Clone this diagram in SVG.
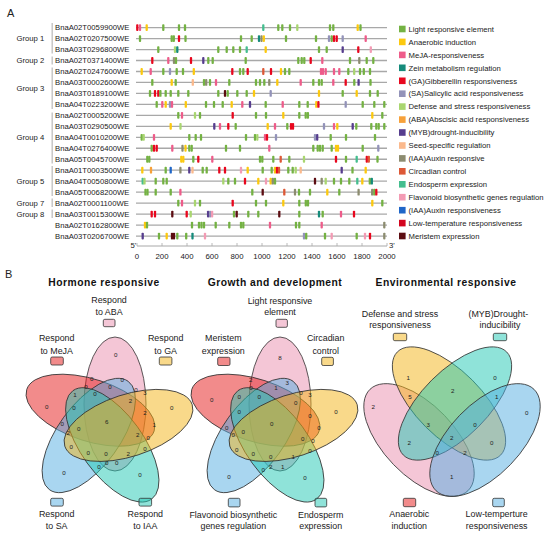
<svg xmlns="http://www.w3.org/2000/svg" xmlns:xlink="http://www.w3.org/1999/xlink" width="550" height="538" viewBox="0 0 550 538">
<style>
text{font-family:"Liberation Sans",Arial,sans-serif;fill:#222}
.pl{font-size:11px}
.gn{font-size:7.7px}
.lt{font-size:7.7px}
.ax{font-size:7.8px;text-anchor:middle}
.vt{font-size:10.3px;font-weight:bold;letter-spacing:.5px;text-anchor:middle;fill:#111}
.vl{font-size:8.9px;text-anchor:middle}
.vn{font-size:6.2px;text-anchor:middle;fill:#333}
.tl{stroke:#a8a8a8;stroke-width:1.3}
.bar{fill:#c4c4c4}
.e{stroke:#333;stroke-width:.8;fill-opacity:.5}
.sq{stroke:#333;stroke-width:.8;fill-opacity:.5}
.vp{fill:#e98dad}.vr{fill:#e61818}.vy{fill:#f3b315}.vb{fill:#53ade1}.vc{fill:#1fc7b3}
.g{fill:#74b243}.y{fill:#fcc90f}.p{fill:#ee5c8a}.t{fill:#158b7b}.r{fill:#e8071e}.l{fill:#9393b9}
.lg{fill:#a9d670}.o{fill:#f7a13a}.pu{fill:#563d8e}.pe{fill:#fbb98c}.ol{fill:#8c8c70}.ro{fill:#dd5836}
.m{fill:#44be8f}.fp{fill:#f39bb4}.b{fill:#1f66c8}.dr{fill:#d3051e}.mr{fill:#5c0d12}
</style>
<defs>
<rect id="k" x="-1.15" y="-3.4" width="2.3" height="6.8" rx="0.9"/>
</defs>
<text class="pl" x="7" y="17">A</text>
<text class="pl" x="5" y="278">B</text>

<g id="groups">
<rect class="bar" x="51.5" y="23" width="1.4" height="30.5"/>
<rect class="bar" x="51.5" y="56.5" width="1.4" height="8"/>
<rect class="bar" x="51.5" y="67.5" width="1.4" height="41.5"/>
<rect class="bar" x="51.5" y="112.5" width="1.4" height="51"/>
<rect class="bar" x="51.5" y="166" width="1.4" height="30"/>
<rect class="bar" x="51.5" y="198.5" width="1.4" height="8.5"/>
<rect class="bar" x="51.5" y="209.5" width="1.4" height="8.5"/>
<text class="gn" x="16.5" y="41.4">Group 1</text>
<text class="gn" x="16.5" y="63.3">Group 2</text>
<text class="gn" x="16.5" y="90.7">Group 3</text>
<text class="gn" x="16.5" y="140.1">Group 4</text>
<text class="gn" x="16.5" y="184">Group 5</text>
<text class="gn" x="16.5" y="205.6">Group 7</text>
<text class="gn" x="16.5" y="216.6">Group 8</text>
</g>

<g id="genes" class="gn">
<text x="55" y="30.4">BnaA02T0059900WE</text>
<text x="55" y="41.4">BnaA02T0207500WE</text>
<text x="55" y="52.3">BnaA03T0296800WE</text>
<text x="55" y="63.3">BnaA02T0371400WE</text>
<text x="55" y="74.3">BnaA02T0247600WE</text>
<text x="55" y="85.3">BnaA03T0002600WE</text>
<text x="55" y="96.2">BnaA03T0189100WE</text>
<text x="55" y="107.2">BnaA04T0223200WE</text>
<text x="55" y="118.2">BnaA02T0005200WE</text>
<text x="55" y="129.1">BnaA03T0290500WE</text>
<text x="55" y="140.1">BnaA04T0010200WE</text>
<text x="55" y="151.1">BnaA04T0276400WE</text>
<text x="55" y="162">BnaA05T0045700WE</text>
<text x="55" y="173">BnaA01T0003500WE</text>
<text x="55" y="184">BnaA04T0050800WE</text>
<text x="55" y="195">BnaA05T0068200WE</text>
<text x="55" y="205.9">BnaA02T0001100WE</text>
<text x="55" y="216.9">BnaA03T0015300WE</text>
<text x="55" y="227.9">BnaA02T0162800WE</text>
<text x="55" y="238.8">BnaA03T0206700WE</text>
</g>

<g id="tracks">
<g transform="translate(0,27.6)"><line class="tl" x1="136" x2="387"/><use href="#k" x="137.3" class="r"/><use href="#k" x="140" class="p"/><use href="#k" x="146.7" class="y"/><use href="#k" x="163.3" class="g"/><use href="#k" x="179" class="g"/><use href="#k" x="185" class="g"/><use href="#k" x="263.3" class="m"/><use href="#k" x="278.3" class="g"/><use href="#k" x="282.3" class="g"/><use href="#k" x="290" class="g"/><use href="#k" x="297.3" class="lg"/><use href="#k" x="330" class="g"/><use href="#k" x="333.3" class="g"/><use href="#k" x="357.7" class="y"/><use href="#k" x="360.5" class="g"/></g>
<g transform="translate(0,38.57)"><line class="tl" x1="136" x2="387"/><use href="#k" x="140" class="g"/><use href="#k" x="171.7" class="g"/><use href="#k" x="173.8" class="g"/><use href="#k" x="179" class="r"/><use href="#k" x="185.5" class="g"/><use href="#k" x="241" class="g"/><use href="#k" x="251.7" class="g"/><use href="#k" x="259" class="t"/><use href="#k" x="261.5" class="ol"/><use href="#k" x="263.8" class="y"/><use href="#k" x="286" class="g"/><use href="#k" x="316" class="g"/><use href="#k" x="329" class="l"/><use href="#k" x="331.7" class="g"/><use href="#k" x="334" class="r"/><use href="#k" x="336.7" class="r"/><use href="#k" x="342.7" class="l"/><use href="#k" x="365.7" class="p"/></g>
<g transform="translate(0,49.54)"><line class="tl" x1="136" x2="387"/><use href="#k" x="158.3" class="g"/><use href="#k" x="175" class="lg"/><use href="#k" x="177.3" class="t"/><use href="#k" x="218.3" class="g"/><use href="#k" x="226.7" class="g"/><use href="#k" x="233.3" class="g"/><use href="#k" x="240" class="g"/><use href="#k" x="246.7" class="m"/><use href="#k" x="265.7" class="y"/><use href="#k" x="319" class="g"/><use href="#k" x="326.7" class="g"/><use href="#k" x="342.7" class="pu"/><use href="#k" x="358.3" class="r"/><use href="#k" x="370.8" class="fp"/></g>
<g transform="translate(0,60.51)"><line class="tl" x1="136" x2="387"/><use href="#k" x="152.3" class="r"/><use href="#k" x="168.3" class="p"/><use href="#k" x="174" class="ol"/><use href="#k" x="176" class="g"/><use href="#k" x="191" class="r"/><use href="#k" x="203.3" class="pu"/><use href="#k" x="208.3" class="g"/><use href="#k" x="212.7" class="g"/><use href="#k" x="245.7" class="g"/><use href="#k" x="298.3" class="g"/><use href="#k" x="301.7" class="g"/><use href="#k" x="304.3" class="g"/><use href="#k" x="310.7" class="r"/><use href="#k" x="322.3" class="p"/><use href="#k" x="350" class="g"/><use href="#k" x="359.3" class="ol"/><use href="#k" x="366.7" class="g"/><use href="#k" x="373.3" class="g"/></g>
<g transform="translate(0,71.48)"><line class="tl" x1="136" x2="387"/><use href="#k" x="141.7" class="y"/><use href="#k" x="150.7" class="p"/><use href="#k" x="163.3" class="g"/><use href="#k" x="170" class="l"/><use href="#k" x="176.7" class="g"/><use href="#k" x="183" class="g"/><use href="#k" x="193.8" class="y"/><use href="#k" x="232.3" class="r"/><use href="#k" x="240" class="g"/><use href="#k" x="243.3" class="g"/><use href="#k" x="247.7" class="r"/><use href="#k" x="263.3" class="ro"/><use href="#k" x="271" class="r"/><use href="#k" x="281" class="y"/><use href="#k" x="285" class="g"/><use href="#k" x="289.3" class="g"/><use href="#k" x="321" class="p"/><use href="#k" x="323" class="p"/><use href="#k" x="325.7" class="p"/><use href="#k" x="334" class="p"/><use href="#k" x="339.3" class="p"/><use href="#k" x="348.3" class="g"/><use href="#k" x="354.2" class="lg"/><use href="#k" x="360" class="g"/><use href="#k" x="363.8" class="g"/><use href="#k" x="370" class="g"/></g>
<g transform="translate(0,82.45)"><line class="tl" x1="136" x2="387"/><use href="#k" x="152.3" class="g"/><use href="#k" x="171.7" class="y"/><use href="#k" x="175.7" class="g"/><use href="#k" x="192.8" class="pe"/><use href="#k" x="204" class="g"/><use href="#k" x="206.2" class="ol"/><use href="#k" x="210" class="g"/><use href="#k" x="216" class="p"/><use href="#k" x="229.3" class="g"/><use href="#k" x="256" class="g"/><use href="#k" x="260" class="g"/><use href="#k" x="264.3" class="g"/><use href="#k" x="269.3" class="ol"/><use href="#k" x="277.3" class="y"/><use href="#k" x="300.7" class="p"/><use href="#k" x="313.3" class="g"/><use href="#k" x="319" class="g"/><use href="#k" x="321.7" class="g"/><use href="#k" x="333.3" class="p"/><use href="#k" x="345.7" class="r"/><use href="#k" x="354.3" class="g"/><use href="#k" x="358.6" class="pu"/><use href="#k" x="370.5" class="g"/></g>
<g transform="translate(0,93.42)"><line class="tl" x1="136" x2="387"/><use href="#k" x="150" class="g"/><use href="#k" x="155" class="r"/><use href="#k" x="158.3" class="r"/><use href="#k" x="160.4" class="g"/><use href="#k" x="165.7" class="g"/><use href="#k" x="170.7" class="g"/><use href="#k" x="178.3" class="g"/><use href="#k" x="188.3" class="g"/><use href="#k" x="218.3" class="g"/><use href="#k" x="225" class="mr"/><use href="#k" x="227.7" class="g"/><use href="#k" x="237.3" class="g"/><use href="#k" x="246.7" class="g"/><use href="#k" x="254" class="y"/><use href="#k" x="270.7" class="l"/><use href="#k" x="319" class="y"/><use href="#k" x="342.7" class="g"/><use href="#k" x="356.7" class="y"/><use href="#k" x="370" class="g"/><use href="#k" x="377.7" class="g"/></g>
<g transform="translate(0,104.39)"><line class="tl" x1="136" x2="387"/><use href="#k" x="156.7" class="g"/><use href="#k" x="162.3" class="p"/><use href="#k" x="165.7" class="y"/><use href="#k" x="170" class="l"/><use href="#k" x="172" class="p"/><use href="#k" x="185.8" class="y"/><use href="#k" x="206" class="g"/><use href="#k" x="214" class="g"/><use href="#k" x="222.7" class="g"/><use href="#k" x="231.7" class="y"/><use href="#k" x="242.3" class="p"/><use href="#k" x="250" class="pu"/><use href="#k" x="265.7" class="g"/><use href="#k" x="282.7" class="p"/><use href="#k" x="299.3" class="g"/><use href="#k" x="307.7" class="g"/><use href="#k" x="316.3" class="y"/><use href="#k" x="318.4" class="r"/><use href="#k" x="345.7" class="l"/><use href="#k" x="362.7" class="g"/><use href="#k" x="374.3" class="g"/><use href="#k" x="384.3" class="g"/></g>
<g transform="translate(0,115.36)"><line class="tl" x1="136" x2="387"/><use href="#k" x="178.3" class="g"/><use href="#k" x="182" class="p"/><use href="#k" x="195" class="lg"/><use href="#k" x="200" class="g"/><use href="#k" x="232.7" class="r"/><use href="#k" x="256" class="g"/><use href="#k" x="266" class="g"/><use href="#k" x="283.3" class="y"/><use href="#k" x="299.3" class="g"/><use href="#k" x="305.7" class="g"/><use href="#k" x="307.9" class="g"/><use href="#k" x="372.3" class="y"/><use href="#k" x="382.3" class="g"/></g>
<g transform="translate(0,126.33)"><line class="tl" x1="136" x2="387"/><use href="#k" x="170.7" class="y"/><use href="#k" x="180.5" class="lg"/><use href="#k" x="214.3" class="pu"/><use href="#k" x="220" class="p"/><use href="#k" x="228.3" class="r"/><use href="#k" x="235.7" class="g"/><use href="#k" x="267.7" class="y"/><use href="#k" x="275" class="p"/><use href="#k" x="287.3" class="g"/><use href="#k" x="291" class="r"/><use href="#k" x="293" class="r"/><use href="#k" x="324" class="l"/><use href="#k" x="334" class="p"/><use href="#k" x="337.3" class="y"/><use href="#k" x="352.7" class="pu"/><use href="#k" x="356.3" class="g"/><use href="#k" x="371.3" class="g"/><use href="#k" x="376.3" class="g"/><use href="#k" x="378.7" class="g"/><use href="#k" x="384.3" class="g"/></g>
<g transform="translate(0,137.3)"><line class="tl" x1="136" x2="387"/><use href="#k" x="141.7" class="g"/><use href="#k" x="143.7" class="lg"/><use href="#k" x="154" class="p"/><use href="#k" x="189.3" class="g"/><use href="#k" x="195.7" class="g"/><use href="#k" x="201" class="g"/><use href="#k" x="246" class="g"/><use href="#k" x="255" class="g"/><use href="#k" x="257.3" class="lg"/><use href="#k" x="265" class="p"/><use href="#k" x="267" class="r"/><use href="#k" x="276" class="l"/><use href="#k" x="315" class="l"/><use href="#k" x="317.2" class="pu"/><use href="#k" x="330.7" class="g"/><use href="#k" x="346" class="g"/><use href="#k" x="375" class="g"/></g>
<g transform="translate(0,148.27)"><line class="tl" x1="136" x2="387"/><use href="#k" x="151.7" class="g"/><use href="#k" x="154" class="r"/><use href="#k" x="156.7" class="r"/><use href="#k" x="172.3" class="p"/><use href="#k" x="182.5" class="ol"/><use href="#k" x="185.5" class="y"/><use href="#k" x="189.3" class="g"/><use href="#k" x="191.7" class="g"/><use href="#k" x="226" class="g"/><use href="#k" x="240" class="g"/><use href="#k" x="269.3" class="p"/><use href="#k" x="313.3" class="g"/><use href="#k" x="317.7" class="g"/><use href="#k" x="320" class="g"/><use href="#k" x="322.7" class="g"/><use href="#k" x="331.7" class="g"/><use href="#k" x="336" class="y"/><use href="#k" x="338" class="y"/><use href="#k" x="362.7" class="g"/><use href="#k" x="378.3" class="l"/></g>
<g transform="translate(0,159.24)"><line class="tl" x1="136" x2="387"/><use href="#k" x="147.3" class="g"/><use href="#k" x="149.3" class="g"/><use href="#k" x="181.3" class="y"/><use href="#k" x="183.3" class="y"/><use href="#k" x="193.3" class="g"/><use href="#k" x="198.3" class="r"/><use href="#k" x="212.3" class="p"/><use href="#k" x="260" class="g"/><use href="#k" x="262.3" class="g"/><use href="#k" x="273.3" class="g"/><use href="#k" x="280.7" class="ro"/><use href="#k" x="289.3" class="g"/><use href="#k" x="304" class="lg"/><use href="#k" x="336" class="r"/><use href="#k" x="346" class="g"/><use href="#k" x="356.7" class="m"/><use href="#k" x="366.8" class="r"/><use href="#k" x="368.8" class="ro"/><use href="#k" x="377.5" class="g"/></g>
<g transform="translate(0,170.21)"><line class="tl" x1="136" x2="387"/><use href="#k" x="142.3" class="y"/><use href="#k" x="151" class="o"/><use href="#k" x="165.7" class="g"/><use href="#k" x="170.7" class="b"/><use href="#k" x="180.4" class="ol"/><use href="#k" x="189.3" class="pu"/><use href="#k" x="192.5" class="pe"/><use href="#k" x="202.7" class="g"/><use href="#k" x="206.7" class="g"/><use href="#k" x="219.3" class="r"/><use href="#k" x="225" class="r"/><use href="#k" x="241" class="fp"/><use href="#k" x="247.7" class="y"/><use href="#k" x="262.7" class="g"/><use href="#k" x="271.7" class="g"/><use href="#k" x="275" class="y"/><use href="#k" x="277" class="r"/><use href="#k" x="279" class="ro"/><use href="#k" x="288.3" class="g"/><use href="#k" x="292.7" class="g"/><use href="#k" x="295.7" class="lg"/><use href="#k" x="300.7" class="pe"/><use href="#k" x="341.7" class="pu"/><use href="#k" x="352.5" class="g"/><use href="#k" x="365.7" class="y"/></g>
<g transform="translate(0,181.18)"><line class="tl" x1="136" x2="387"/><use href="#k" x="142.7" class="m"/><use href="#k" x="144.5" class="lg"/><use href="#k" x="155.7" class="g"/><use href="#k" x="163.3" class="g"/><use href="#k" x="166.7" class="g"/><use href="#k" x="223.3" class="lg"/><use href="#k" x="228.3" class="g"/><use href="#k" x="235" class="g"/><use href="#k" x="245" class="r"/><use href="#k" x="258.3" class="y"/><use href="#k" x="266" class="fp"/><use href="#k" x="270.7" class="y"/><use href="#k" x="272.8" class="ol"/><use href="#k" x="275" class="g"/><use href="#k" x="315" class="mr"/><use href="#k" x="321.7" class="ol"/><use href="#k" x="325.7" class="lg"/><use href="#k" x="334" class="g"/><use href="#k" x="341" class="g"/><use href="#k" x="349.3" class="g"/><use href="#k" x="357.3" class="m"/><use href="#k" x="362.3" class="y"/><use href="#k" x="369.8" class="g"/><use href="#k" x="371.8" class="t"/></g>
<g transform="translate(0,192.15)"><line class="tl" x1="136" x2="387"/><use href="#k" x="145.5" class="g"/><use href="#k" x="147.5" class="g"/><use href="#k" x="155.7" class="g"/><use href="#k" x="170.7" class="g"/><use href="#k" x="180.4" class="p"/><use href="#k" x="252.3" class="g"/><use href="#k" x="262.7" class="mr"/><use href="#k" x="284.3" class="ro"/><use href="#k" x="295" class="ol"/><use href="#k" x="299" class="g"/><use href="#k" x="310" class="g"/><use href="#k" x="327.3" class="y"/><use href="#k" x="339.3" class="g"/><use href="#k" x="358.6" class="ol"/><use href="#k" x="372.2" class="ol"/><use href="#k" x="374.3" class="g"/><use href="#k" x="376.3" class="r"/></g>
<g transform="translate(0,203.12)"><line class="tl" x1="136" x2="387"/><use href="#k" x="178.3" class="g"/><use href="#k" x="182" class="p"/><use href="#k" x="195" class="lg"/><use href="#k" x="200" class="g"/><use href="#k" x="232.7" class="r"/><use href="#k" x="256" class="g"/><use href="#k" x="266" class="g"/><use href="#k" x="283.3" class="y"/><use href="#k" x="299.3" class="g"/><use href="#k" x="305.8" class="g"/><use href="#k" x="308" class="g"/><use href="#k" x="372.3" class="y"/><use href="#k" x="382.3" class="g"/></g>
<g transform="translate(0,214.09)"><line class="tl" x1="136" x2="387"/><use href="#k" x="151.7" class="r"/><use href="#k" x="155" class="r"/><use href="#k" x="172.3" class="mr"/><use href="#k" x="186.7" class="r"/><use href="#k" x="190.7" class="lg"/><use href="#k" x="208.1" class="pu"/><use href="#k" x="210.1" class="l"/><use href="#k" x="212.1" class="fp"/><use href="#k" x="234" class="g"/><use href="#k" x="236.7" class="mr"/><use href="#k" x="248.3" class="g"/><use href="#k" x="258.3" class="g"/><use href="#k" x="279.3" class="mr"/><use href="#k" x="299.3" class="g"/><use href="#k" x="319" class="t"/><use href="#k" x="322.7" class="g"/><use href="#k" x="341" class="p"/><use href="#k" x="354" class="r"/></g>
<g transform="translate(0,225.06)"><line class="tl" x1="136" x2="387"/><use href="#k" x="145" class="y"/><use href="#k" x="147" class="g"/><use href="#k" x="192" class="g"/><use href="#k" x="199" class="g"/><use href="#k" x="201.5" class="g"/><use href="#k" x="204" class="g"/><use href="#k" x="215.7" class="g"/><use href="#k" x="229.3" class="g"/><use href="#k" x="241" class="g"/><use href="#k" x="243.3" class="g"/><use href="#k" x="270" class="p"/><use href="#k" x="296" class="g"/><use href="#k" x="299.3" class="g"/><use href="#k" x="321.7" class="p"/><use href="#k" x="384.3" class="ol"/></g>
<g transform="translate(0,236.03)"><line class="tl" x1="136" x2="387"/><use href="#k" x="142.7" class="pu"/><use href="#k" x="159" class="g"/><use href="#k" x="166.7" class="y"/><use href="#k" x="172" class="mr"/><use href="#k" x="174" class="mr"/><use href="#k" x="177.3" class="g"/><use href="#k" x="186.2" class="g"/><use href="#k" x="192.5" class="t"/><use href="#k" x="205" class="fp"/><use href="#k" x="304" class="l"/><use href="#k" x="306.2" class="g"/><use href="#k" x="325" class="g"/><use href="#k" x="331.7" class="fp"/><use href="#k" x="356.7" class="g"/><use href="#k" x="365" class="fp"/><use href="#k" x="370" class="r"/><use href="#k" x="384.3" class="ol"/></g>
</g>

<g id="axis">
<line x1="137" y1="246" x2="387" y2="246" stroke="#a8a8a8" stroke-width="1"/>
<path d="M137 243V246M162 243V246M187 243V246M212 243V246M237 243V246M262 243V246M287 243V246M312 243V246M337 243V246M362 243V246M387 243V246" stroke="#a8a8a8" stroke-width="0.8"/>
<text class="gn" x="130.5" y="248">5'</text>
<text class="gn" x="389" y="248">3'</text>
<text class="ax" x="137" y="258.5">0</text>
<text class="ax" x="162" y="258.5">200</text>
<text class="ax" x="187" y="258.5">400</text>
<text class="ax" x="212" y="258.5">600</text>
<text class="ax" x="237" y="258.5">800</text>
<text class="ax" x="262" y="258.5">1000</text>
<text class="ax" x="287" y="258.5">1200</text>
<text class="ax" x="312" y="258.5">1400</text>
<text class="ax" x="337" y="258.5">1600</text>
<text class="ax" x="362" y="258.5">1800</text>
<text class="ax" x="387" y="258.5">2000</text>
</g>

<g id="legend">
<rect class="g" x="399" y="25.7" width="6.6" height="6.6"/><text class="lt" x="408.5" y="31.7">Light responsive element</text>
<rect class="y" x="399" y="38.6" width="6.6" height="6.6"/><text class="lt" x="408.5" y="44.6">Anaerobic induction</text>
<rect class="p" x="399" y="51.6" width="6.6" height="6.6"/><text class="lt" x="408.5" y="57.6">MeJA-responsiveness</text>
<rect class="t" x="399" y="64.5" width="6.6" height="6.6"/><text class="lt" x="408.5" y="70.5">Zein metabolism regulation</text>
<rect class="r" x="399" y="77.5" width="6.6" height="6.6"/><text class="lt" x="408.5" y="83.5">(GA)Gibberellin responsiveness</text>
<rect class="l" x="399" y="90.4" width="6.6" height="6.6"/><text class="lt" x="408.5" y="96.4">(SA)Salicylic acid responsiveness</text>
<rect class="lg" x="399" y="103.3" width="6.6" height="6.6"/><text class="lt" x="408.5" y="109.3">Defense and stress responsiveness</text>
<rect class="o" x="399" y="116.3" width="6.6" height="6.6"/><text class="lt" x="408.5" y="122.3">(ABA)Abscisic acid responsiveness</text>
<rect class="pu" x="399" y="129.2" width="6.6" height="6.6"/><text class="lt" x="408.5" y="135.2">(MYB)drought-inducibility</text>
<rect class="pe" x="399" y="142.2" width="6.6" height="6.6"/><text class="lt" x="408.5" y="148.2">Seed-specific regulation</text>
<rect class="ol" x="399" y="155.1" width="6.6" height="6.6"/><text class="lt" x="408.5" y="161.1">(IAA)Auxin responsive</text>
<rect class="ro" x="399" y="168" width="6.6" height="6.6"/><text class="lt" x="408.5" y="174">Circadian control</text>
<rect class="m" x="399" y="181" width="6.6" height="6.6"/><text class="lt" x="408.5" y="187">Endosperm expression</text>
<rect class="fp" x="399" y="193.9" width="6.6" height="6.6"/><text class="lt" x="408.5" y="199.9">Flavonoid biosynthetic genes regulation</text>
<rect class="b" x="399" y="206.9" width="6.6" height="6.6"/><text class="lt" x="408.5" y="212.9">(IAA)Auxin responsiveness</text>
<rect class="dr" x="399" y="219.8" width="6.6" height="6.6"/><text class="lt" x="408.5" y="225.8">Low-temperature responsiveness</text>
<rect class="mr" x="399" y="232.7" width="6.6" height="6.6"/><text class="lt" x="408.5" y="238.7">Meristem expression</text>
</g>

<g id="venn-hormone">
<text class="vt" x="104" y="285.5">Hormone responsive</text>
<ellipse class="e vp" cx="115" cy="404" rx="31" ry="67"/>
<ellipse class="e vr" cx="115" cy="404" rx="31" ry="67" transform="rotate(-72 107 424)"/>
<ellipse class="e vb" cx="115" cy="404" rx="31" ry="67" transform="rotate(-144 107 424)"/>
<ellipse class="e vc" cx="115" cy="404" rx="31" ry="67" transform="rotate(144 107 424)"/>
<ellipse class="e vy" cx="115" cy="404" rx="31" ry="67" transform="rotate(72 107 424)"/>
<text class="vl" x="109" y="303">Respond</text><text class="vl" x="109" y="315.3">to ABA</text>
<rect class="sq vp" x="103.3" y="319.3" width="11.7" height="7.4" rx="1.5"/>
<text class="vl" x="56.7" y="341.3">Respond</text><text class="vl" x="56.7" y="353.7">to MeJA</text>
<rect class="sq vr" x="50.7" y="357" width="12.6" height="8" rx="1.5"/>
<text class="vl" x="165.7" y="341.3">Respond</text><text class="vl" x="165.7" y="353.7">to GA</text>
<rect class="sq vy" x="159.3" y="357" width="12.6" height="8" rx="1.5"/>
<rect class="sq vb" x="50.7" y="498.3" width="12.6" height="7.8" rx="1.5"/>
<text class="vl" x="56.7" y="517.3">Respond</text><text class="vl" x="56.7" y="529">to SA</text>
<rect class="sq vc" x="139" y="498.3" width="12.6" height="7.8" rx="1.5"/>
<text class="vl" x="145.3" y="517.3">Respond</text><text class="vl" x="145.3" y="529">to IAA</text>
<g class="vn">
<text x="115.7" y="357">0</text><text x="46.7" y="408.7">0</text><text x="171.7" y="410.3">0</text><text x="64" y="474.7">0</text><text x="140" y="477">0</text>
<text x="106.7" y="424">6</text>
<text x="91.7" y="381">0</text><text x="122.3" y="382">0</text><text x="86" y="388.7">0</text><text x="110" y="388.7">0</text>
<text x="75" y="397.3">1</text><text x="95" y="396.3">0</text><text x="136" y="392.3">0</text><text x="145" y="395.3">3</text>
<text x="130.5" y="402.5">2</text><text x="74" y="409.7">0</text><text x="145" y="414.7">2</text><text x="62.3" y="426.3">0</text>
<text x="154.3" y="427.3">1</text><text x="68.3" y="435.3">2</text><text x="78.7" y="431">0</text><text x="137.7" y="437">2</text>
<text x="148.3" y="440.3">0</text><text x="71.3" y="448.7">0</text><text x="88.3" y="454.7">0</text><text x="106" y="456">0</text>
<text x="128.3" y="456">2</text><text x="145" y="451">0</text><text x="99" y="469.3">0</text><text x="106.7" y="465.3">0</text><text x="116.7" y="465.3">0</text>
</g>
</g>

<g id="venn-growth">
<text class="vt" x="275" y="285.5">Growth and development</text>
<ellipse class="e vp" cx="280" cy="404" rx="31" ry="67"/>
<ellipse class="e vr" cx="280" cy="404" rx="31" ry="67" transform="rotate(-72 272 424)"/>
<ellipse class="e vb" cx="280" cy="404" rx="31" ry="67" transform="rotate(-144 272 424)"/>
<ellipse class="e vc" cx="280" cy="404" rx="31" ry="67" transform="rotate(144 272 424)"/>
<ellipse class="e vy" cx="280" cy="404" rx="31" ry="67" transform="rotate(72 272 424)"/>
<text class="vl" x="280" y="303.7">Light responsive</text><text class="vl" x="280" y="315.3">element</text>
<rect class="sq vp" x="276" y="319.3" width="11.4" height="8" rx="1.5"/>
<text class="vl" x="223.3" y="341.3">Meristem</text><text class="vl" x="223.3" y="353.7">expression</text>
<rect class="sq vr" x="217.7" y="357.3" width="12.3" height="8.2" rx="1.5"/>
<text class="vl" x="325.7" y="341.3">Circadian</text><text class="vl" x="325.7" y="353.7">control</text>
<rect class="sq vy" x="321.7" y="357.3" width="11.7" height="8.2" rx="1.5"/>
<rect class="sq vb" x="228.3" y="498.3" width="11.7" height="8.6" rx="1.5"/>
<text class="vl" x="233.3" y="518">Flavonoid biosynthetic</text><text class="vl" x="233.3" y="529">genes regulation</text>
<rect class="sq vc" x="315" y="498.3" width="11.7" height="8.6" rx="1.5"/>
<text class="vl" x="320.7" y="518">Endosperm</text><text class="vl" x="320.7" y="529">expression</text>
<g class="vn">
<text x="280" y="360.3">8</text><text x="211.7" y="402">0</text><text x="336" y="413.7">0</text><text x="229" y="478.7">0</text><text x="305" y="480.3">0</text>
<text x="271.7" y="426.3">0</text>
<text x="250.7" y="382">2</text><text x="287.3" y="385">3</text><text x="251" y="390.3">0</text><text x="276" y="390.3">1</text>
<text x="239.3" y="399.3">0</text><text x="259.3" y="398.7">0</text><text x="301" y="395.3">0</text><text x="310" y="397">3</text>
<text x="295.7" y="405.3">0</text><text x="239.3" y="413.7">0</text><text x="310" y="418">0</text><text x="226.7" y="430">0</text>
<text x="319" y="430.3">0</text><text x="233.3" y="436.7">0</text><text x="243.3" y="433.7">0</text><text x="302.7" y="441">0</text>
<text x="313" y="443">0</text><text x="236.7" y="452">0</text><text x="253.3" y="455.7">0</text><text x="270.7" y="458.7">0</text>
<text x="293.3" y="459.3">1</text><text x="310" y="453">0</text><text x="263.3" y="472">0</text><text x="270.7" y="469.3">2</text><text x="282.7" y="468.7">1</text>
</g>
</g>

<g id="venn-environment">
<text class="vt" x="446" y="285.5">Environmental responsive</text>
<ellipse class="e vp" cx="419" cy="440" rx="70.5" ry="35.4" transform="rotate(46 419 440)"/>
<ellipse class="e vy" cx="449" cy="403.5" rx="73" ry="33" transform="rotate(45 449 403.5)"/>
<ellipse class="e vc" cx="455" cy="403.5" rx="73" ry="33" transform="rotate(-45 455 403.5)"/>
<ellipse class="e vb" cx="485" cy="440" rx="70.5" ry="35.4" transform="rotate(-46 485 440)"/>
<text class="vl" x="400" y="317">Defense and stress</text><text class="vl" x="400" y="328">responsiveness</text>
<rect class="sq vy" x="393.3" y="333.3" width="13.4" height="7.4" rx="1.5"/>
<text class="vl" x="498.3" y="317">(MYB)Drought-</text><text class="vl" x="500" y="328">inducibility</text>
<rect class="sq vc" x="493.3" y="333.3" width="13.4" height="7.4" rx="1.5"/>
<rect class="sq vr" x="403.3" y="498.3" width="12.4" height="8.4" rx="1.5"/>
<text class="vl" x="409.3" y="517.3">Anaerobic</text><text class="vl" x="409.3" y="529">induction</text>
<rect class="sq vb" x="492.7" y="498.3" width="11.6" height="8.4" rx="1.5"/>
<text class="vl" x="496.7" y="517.3">Low-temperture</text><text class="vl" x="496.7" y="529">responsiveness</text>
<g class="vn">
<text x="373.3" y="408.7">2</text><text x="408.3" y="380.3">1</text><text x="495" y="380.3">0</text><text x="526.7" y="415.3">0</text>
<text x="452.7" y="392.7">2</text><text x="410" y="398.7">5</text><text x="496.7" y="398.7">1</text><text x="428.3" y="427">3</text>
<text x="475" y="427">0</text><text x="451.7" y="439.7">2</text><text x="409.3" y="444.7">2</text><text x="491.7" y="444.7">0</text>
<text x="437.3" y="454.7">0</text><text x="465" y="454.7">2</text><text x="451.7" y="479.3">1</text>
</g>
</g>
</svg>
